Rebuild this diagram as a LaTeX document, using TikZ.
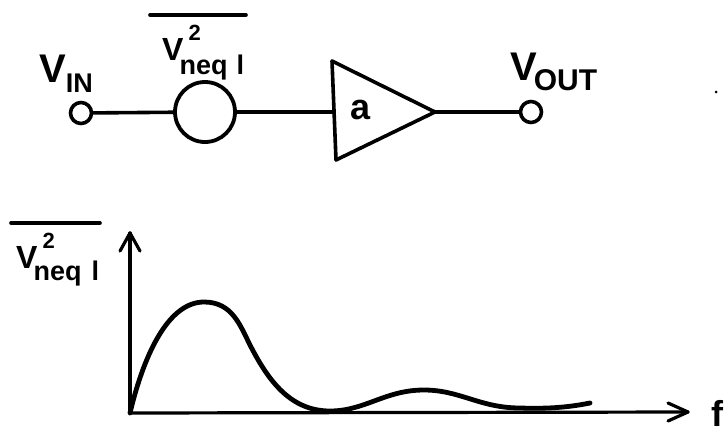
\documentclass[tikz,border=0pt]{standalone}
\usepackage{fontspec}
\setmainfont{Liberation Sans}
\newcommand{\lblV}{\fontsize{40}{40}\selectfont\bfseries}
\newcommand{\lblSub}{\fontsize{27}{27}\selectfont\bfseries}
\newcommand{\lblOut}{\fontsize{30}{30}\selectfont\bfseries}
\newcommand{\lblVs}{\fontsize{32}{32}\selectfont\bfseries}
\newcommand{\lblNeq}{\fontsize{27}{27}\selectfont\bfseries}
\newcommand{\lblTwo}{\fontsize{22}{22}\selectfont\bfseries}
\begin{document}
\begin{tikzpicture}[x=1pt,y=-1pt,line join=round,line cap=round,
  wire/.style={line width=3.6pt},
  port/.style={circle,draw,line width=3.6pt,minimum size=21pt,inner sep=0pt},
  source/.style={circle,draw,line width=3.8pt,minimum size=60pt,inner sep=0pt},
  amp/.style={line width=3.6pt},
  axis/.style={line width=3.2pt},
  curve/.style={line width=4.8pt},
  bar/.style={line width=3.6pt},
  lbl/.style={inner sep=0pt,anchor=base west}]
\useasboundingbox (0,0) rectangle (728,434);
\node[port] (in) at (81,113) {};
\node[port] (out) at (531,112) {};
\node[source] (src) at (205,112) {};
\coordinate (ampT) at (332,61);
\coordinate (ampB) at (336,160);
\coordinate (ampO) at (435,112);
\coordinate (ampI) at (334,112);
\draw[amp] (ampT) -- (ampO) -- (ampB) -- cycle;
\draw[wire] (in) -- (src);
\draw[wire] (src) -- (ampI);
\draw[wire] (ampO) -- (out);
\node[inner sep=0pt] (gain) at (361,110) {\fontsize{36}{36}\selectfont\bfseries a};
\node[lbl] (vin) at (39,82) {\lblV V\raisebox{-10pt}{\lblSub IN}};
\node[lbl] (vout) at (510,80) {\lblV V\hspace{-3pt}\raisebox{-10pt}{\lblOut OUT}};
\node[lbl] (vn1) at (162,60) {\lblVs V\hspace{-4pt}\rlap{\raisebox{20pt}{\lblTwo\hspace{9pt}2}}\raisebox{-14pt}{\lblNeq neq\hspace{9pt}l}};
\node[lbl] (vn2) at (16,268) {\lblVs V\hspace{-4pt}\rlap{\raisebox{20pt}{\lblTwo\hspace{9pt}2}}\raisebox{-12pt}{\lblNeq neq\hspace{10pt}l}};
\coordinate (b1a) at (150,15); \coordinate (b1b) at (246,15);
\coordinate (b2a) at (11,223); \coordinate (b2b) at (100,223);
\draw[bar] (b1a) -- (b1b);
\draw[bar] (b2a) -- (b2b);
\coordinate (o) at (130,413);
\coordinate (yt) at (130,233);
\coordinate (xt) at (688,412);
\draw[axis] (o) -- (yt);
\draw[axis] (o) -- (xt);
\draw[axis] (120,251) -- (yt) -- (140,251);
\draw[axis] (668,403) -- (xt) -- (668,421);
\draw[curve] (o) .. controls (145,350) and (170,302) .. (204,302)
  .. controls (232,302) and (240,325) .. (250,345)
  .. controls (268,380) and (290,411) .. (330,411)
  .. controls (365,411) and (385,390) .. (424,390)
  .. controls (460,390) and (480,408) .. (520,408)
  .. controls (550,409) and (570,407) .. (590,403);
\node[inner sep=0pt,anchor=base west] (f) at (711,426) {\fontsize{36}{36}\selectfont\bfseries f};
\fill (716,92) circle (1.5pt);
\end{tikzpicture}
\end{document}
